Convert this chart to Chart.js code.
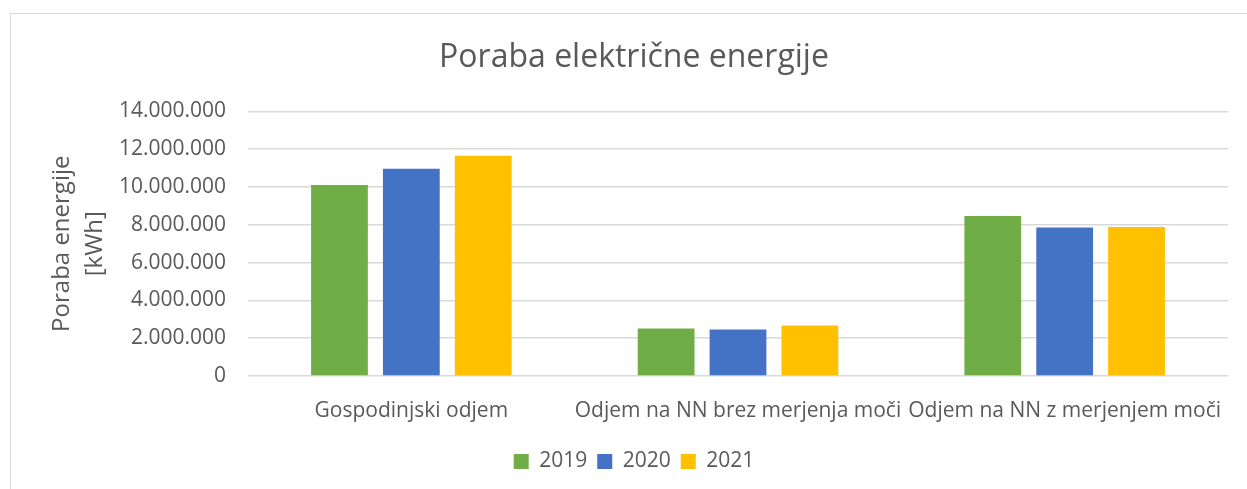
<!DOCTYPE html>
<html>
<head>
<meta charset="utf-8">
<script src="https://cdn.jsdelivr.net/npm/chart.js@4"></script>
<style>
  body { margin: 0; background: #fff; }
  #frame {
    position: absolute; left: 10px; top: 13px; width: 1300px; height: 600px;
    border-left: 1px solid #d9d9d9; border-top: 1px solid #d9d9d9;
  }
  #chart { position: absolute; left: 0; top: 0; }
</style>
</head>
<body>
<div id="frame"></div>
<canvas id="chart" width="1247" height="489"></canvas>
<script>
const categories = [
  "Gospodinjski odjem",
  "Odjem na NN brez merjenja moči",
  "Odjem na NN z merjenjem moči",
];
const years = ["2019", "2020", "2021"];
const values2019 = [10100000, 2510000, 8460000];
const values2020 = [10970000, 2460000, 7860000];
const values2021 = [11660000, 2670000, 7880000];
const colors = ["#70AD47", "#4472C4", "#FFC000"];

const textColor = "#595959";
const fontFamily = "'Open Sans', sans-serif";

const seriesValues = [values2019, values2020, values2021];

const chart = new Chart(document.getElementById("chart"), {
  type: "bar",
  data: {
    labels: categories,
    datasets: years.map((year, i) => ({
      label: year,
      data: seriesValues[i],
      backgroundColor: colors[i],
      categoryPercentage: 0.66,
      barPercentage: 0.79,
    })),
  },
  options: {
    responsive: false,
    animation: false,
    layout: { padding: { top: 14, left: 40, right: 19, bottom: 7 } },
    plugins: {
      title: {
        display: true,
        text: "Poraba električne energije",
        color: textColor,
        font: { family: fontFamily, size: 32, weight: "normal" },
        padding: { top: 25, bottom: 34 },
      },
      legend: {
        position: "bottom",
        labels: {
          color: textColor,
          font: { family: fontFamily, size: 21 },
          boxWidth: 15,
          boxHeight: 15,
          padding: 10,
        },
      },
      tooltip: { enabled: false },
    },
    scales: {
      x: {
        grid: { display: false },
        border: { display: false },
        ticks: {
          color: textColor,
          font: { family: fontFamily, size: 21 },
          maxRotation: 0,
          autoSkip: false,
          padding: 14,
        },
        afterFit: (scale) => { scale.height = 65; },
      },
      y: {
        min: 0,
        max: 14000000,
        grid: { color: "#d9d9d9", lineWidth: 1.5, drawTicks: false },
        border: { display: false },
        ticks: {
          stepSize: 2000000,
          color: textColor,
          font: { family: fontFamily, size: 21 },
          padding: 22,
          callback: (v) => v.toLocaleString("de-DE"),
        },
        title: {
          display: true,
          text: ["Poraba energije", "[kWh]"],
          color: textColor,
          font: { family: fontFamily, size: 24, lineHeight: 1.4 },
          padding: { top: 5, bottom: 0 },
        },
        afterFit: (scale) => { scale.width = 208; },
      },
    },
  },
});
</script>
</body>
</html>
